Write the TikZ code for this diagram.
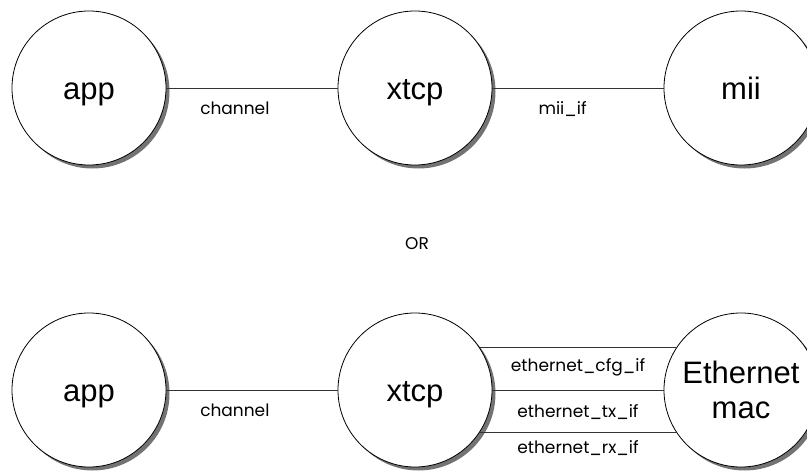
\documentclass[tikz,border=0pt]{standalone}
\usepackage{fontspec}
\setmainfont{Poppins}
\newfontfamily\arialfont{Liberation Sans}
\usetikzlibrary{shadows}

\begin{document}
\begin{tikzpicture}[x=1pt,y=-1pt,
    proc/.style={circle,draw,line width=0.8pt,fill=white,minimum size=154pt,inner sep=0pt,
      drop shadow={shadow xshift=3.5pt,shadow yshift=-3.5pt,fill=black!55,opacity=1},
      font=\arialfont\fontsize{31}{35}\selectfont,align=center},
    word/.style={proc,text height=29pt,text depth=7pt},
    link/.style={draw=black!80,line width=0.8pt},
    lbl/.style={font=\fontsize{17}{20}\selectfont,inner sep=0pt,text height=13pt,text depth=4pt}]
    \useasboundingbox (0,0) rectangle (807,471);
    \clip (0,0) rectangle (807,471);
    %mii variant
    \node [word] (app1) at (89,88) {app};
    \node [word] (xtcp1) at (415,88) {xtcp};
    \node [word] (mii) at (741,88) {mii};
    \draw [link] (app1) -- node [lbl,below=13.5pt,pos=0.4] {channel} (xtcp1);
    \draw [link] (xtcp1) -- node [lbl,below=13.5pt,pos=0.41] {mii\_if} (mii);
    \node [lbl] (or) at (417,244.5) {OR};
    %ethernet mac variant
    \node [word] (app2) at (89,390) {app};
    \node [word] (xtcp2) at (415,390) {xtcp};
    \node [proc] (mac) at (741,390) {Ethernet\\mac};
    \draw [link] (app2) -- node [lbl,below=13.5pt,pos=0.4] {channel} (xtcp2);
    \draw [link] (xtcp2.33) -- node [lbl,below=10pt] {ethernet\_cfg\_if} (mac.147);
    \draw [link] (xtcp2) -- node [lbl,below=14pt] {ethernet\_tx\_if} (mac);
    \draw [link] (xtcp2.-33) -- node [lbl,below=8pt] {ethernet\_rx\_if} (mac.-147);
  \end{tikzpicture}
\end{document}
